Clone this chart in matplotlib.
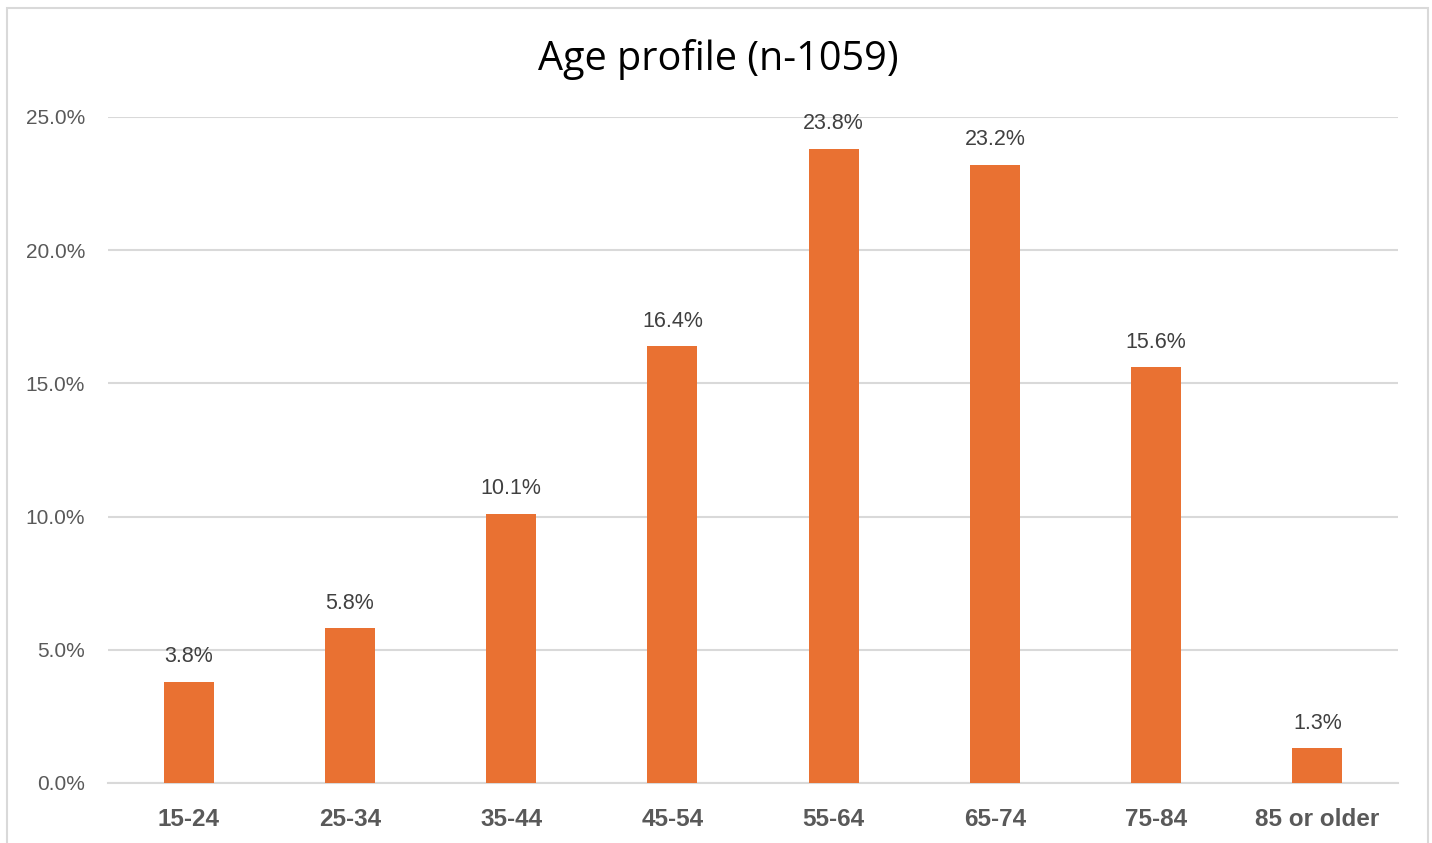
import matplotlib.pyplot as plt
from matplotlib.patches import Rectangle
from matplotlib.ticker import FuncFormatter

categories = ["15-24", "25-34", "35-44", "45-54", "55-64", "65-74", "75-84", "85 or older"]
shares = [3.8, 5.8, 10.1, 16.4, 23.8, 23.2, 15.6, 1.3]
yticks = [0, 5, 10, 15, 20, 25]

bar_color = "#E97132"
grid_color = "#D9D9D9"

plt.rcParams["font.family"] = ["Liberation Sans", "DejaVu Sans"]

fig = plt.figure(figsize=(14.32, 8.43), dpi=100)
ax = fig.add_axes([108 / 1432, 1 - 783 / 843, 1290 / 1432, 666 / 843])

# chart frame
fig.patches.append(Rectangle((7 / 1432, -0.05), 1421 / 1432, 1.05 - 8 / 843,
                             transform=fig.transFigure, fill=False,
                             edgecolor=grid_color, linewidth=1.5))

x = range(len(categories))
bars = ax.bar(x, shares, width=0.31, color=bar_color, zorder=3)

for xi, v in zip(x, shares):
    ax.annotate(f"{v:.1f}%", (xi, v), xytext=(0, 10.5), textcoords="offset points",
                ha="center", va="bottom", fontsize=15.5, color="#404040")

ax.set_xlim(-0.5, len(categories) - 0.5)
ax.set_ylim(0, 25)
ax.set_yticks(yticks)
ax.yaxis.set_major_formatter(FuncFormatter(lambda v, p: f"{v:.1f}%"))
ax.set_xticks(list(x))
ax.set_xticklabels(categories, fontsize=17.5, fontweight="bold", color="#595959")
ax.tick_params(axis="y", labelsize=15, labelcolor="#595959", length=0, pad=16.5)
ax.tick_params(axis="x", length=0, pad=18)

ax.grid(axis="y", color=grid_color, linewidth=1.5, zorder=0)
for s in ["top", "right", "left"]:
    ax.spines[s].set_visible(False)
ax.spines["bottom"].set_color(grid_color)
ax.spines["bottom"].set_linewidth(1.5)

fig.text(0.5015, 1 - 60 / 843, "Age profile (n-1059)", ha="center", va="center",
         fontsize=28.5, family=["Open Sans", "DejaVu Sans"], color="black")

fig.savefig("out.png", dpi=100, facecolor="white")
